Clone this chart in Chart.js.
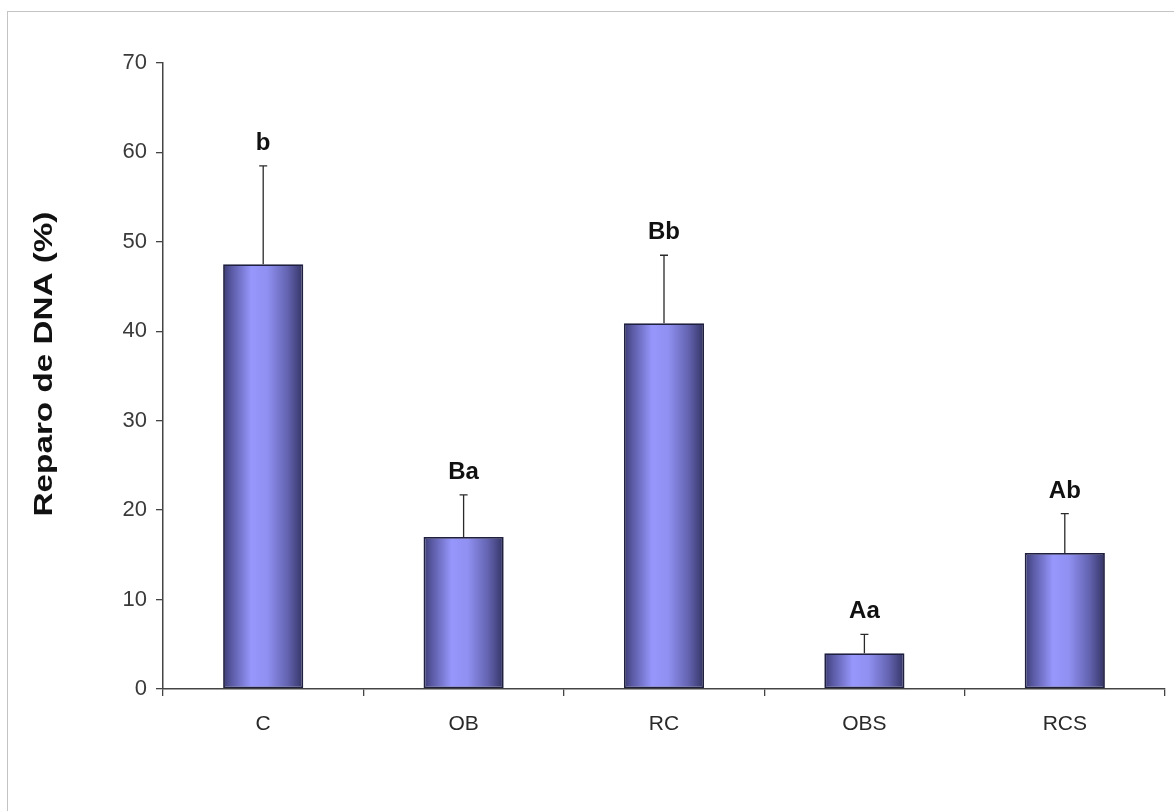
<!DOCTYPE html>
<html>
<head>
<meta charset="utf-8">
<script src="https://cdn.jsdelivr.net/npm/chart.js@4.4.1/dist/chart.umd.min.js"></script>
<style>
  html, body { margin: 0; padding: 0; background: #fff; overflow: hidden; }
  #wrap { position: relative; width: 1174px; height: 811px; }
  #frame { position: absolute; left: 7px; top: 11px; width: 1200px; height: 900px;
           border: 1px solid #c4c4c4; box-sizing: border-box; }
  canvas { position: absolute; left: 0; top: 0; }
</style>
</head>
<body>
<div id="wrap">
  <div id="frame"></div>
  <canvas id="chart" width="1174" height="811"></canvas>
</div>
<script>
// Treatment groups and DNA repair means (%)
const categories = ['C', 'OB', 'RC', 'OBS', 'RCS'];
const repairMeans = [47.5, 17.0, 40.9, 4.0, 15.2];
// Upper error bar lengths (standard deviation)
const repairErrors = [11.0, 4.7, 7.6, 2.1, 4.4];
// Statistical grouping letters above each bar
const groupLetters = ['b', 'Ba', 'Bb', 'Aa', 'Ab'];
const yTicks = [0, 10, 20, 30, 40, 50, 60, 70];
const yTitle = 'Reparo de DNA (%)';

const FONT = '"Liberation Sans", Arial, Helvetica, sans-serif';
const BAR_PCT = 0.4;

// Cylinder-like horizontal shading for each bar
function barGradient(ctx) {
  const chart = ctx.chart;
  const xs = chart.scales.x;
  if (!chart.chartArea || !xs) return '#8c8cf0';
  const cx = xs.getPixelForValue(ctx.dataIndex);
  const w = (xs.width / categories.length) * BAR_PCT;
  const g = chart.ctx.createLinearGradient(cx - w / 2, 0, cx + w / 2, 0);
  g.addColorStop(0.00, '#3c3c74');
  g.addColorStop(0.10, '#5858a2');
  g.addColorStop(0.35, '#9696fc');
  g.addColorStop(0.55, '#9090f2');
  g.addColorStop(0.80, '#6464b2');
  g.addColorStop(0.94, '#42427c');
  g.addColorStop(1.00, '#33335f');
  return g;
}

// Error bars (upper only) and group letters
const annotate = {
  id: 'annotate',
  afterDatasetsDraw(chart) {
    const { ctx } = chart;
    const xs = chart.scales.x, ys = chart.scales.y;
    ctx.save();
    categories.forEach((c, i) => {
      const x = xs.getPixelForValue(i);
      const yTop = ys.getPixelForValue(repairMeans[i]);
      const yErr = ys.getPixelForValue(repairMeans[i] + repairErrors[i]);
      ctx.strokeStyle = '#2a2a2a';
      ctx.lineWidth = 1.3;
      ctx.beginPath();
      ctx.moveTo(x, yTop);
      ctx.lineTo(x, yErr);
      ctx.moveTo(x - 4, yErr);
      ctx.lineTo(x + 4, yErr);
      ctx.stroke();
      ctx.fillStyle = '#111';
      ctx.font = 'bold 24px ' + FONT;
      ctx.textAlign = 'center';
      ctx.textBaseline = 'alphabetic';
      ctx.fillText(groupLetters[i], x, yErr - 16);
    });
    ctx.restore();
  },
  afterDraw(chart) {
    // Rotated, slightly widened axis title
    const { ctx, chartArea } = chart;
    ctx.save();
    ctx.translate(45, (chartArea.top + chartArea.bottom) / 2 - 12);
    ctx.rotate(-Math.PI / 2);
    ctx.scale(1.33, 1);
    ctx.fillStyle = '#111';
    ctx.font = 'bold 25px ' + FONT;
    ctx.textAlign = 'center';
    ctx.textBaseline = 'middle';
    ctx.fillText(yTitle, 0, 0);
    ctx.restore();
  }
};

new Chart(document.getElementById('chart'), {
  type: 'bar',
  data: {
    labels: categories,
    datasets: [{
      data: repairMeans,
      backgroundColor: barGradient,
      borderColor: '#1f1f40',
      borderWidth: 1.8,
      borderSkipped: false,
      barPercentage: BAR_PCT,
      categoryPercentage: 1.0
    }]
  },
  options: {
    responsive: false,
    devicePixelRatio: 1,
    animation: false,
    layout: { padding: { top: 63, right: 9, left: 0, bottom: 0 } },
    plugins: { legend: { display: false }, tooltip: { enabled: false } },
    scales: {
      x: {
        afterFit(s) { s.height = 122; },
        grid: { display: true, drawOnChartArea: false, drawTicks: true, tickLength: 7,
                color: '#444', lineWidth: 1.3 },
        border: { display: true, color: '#444', width: 1.5 },
        ticks: { color: '#2a2a2a', padding: 16, font: { family: FONT, size: 21 } }
      },
      y: {
        min: 0, max: 70,
        afterFit(s) { s.width = 163; },
        afterBuildTicks(s) { s.ticks = yTicks.map(v => ({ value: v })); },
        grid: { display: true, drawOnChartArea: false, drawTicks: true, tickLength: 7,
                color: '#444', lineWidth: 1.3 },
        border: { display: true, color: '#444', width: 1.5 },
        ticks: { color: '#3a3a3a', padding: 9, font: { family: FONT, size: 22 } }
      }
    }
  },
  plugins: [annotate]
});
</script>
</body>
</html>
